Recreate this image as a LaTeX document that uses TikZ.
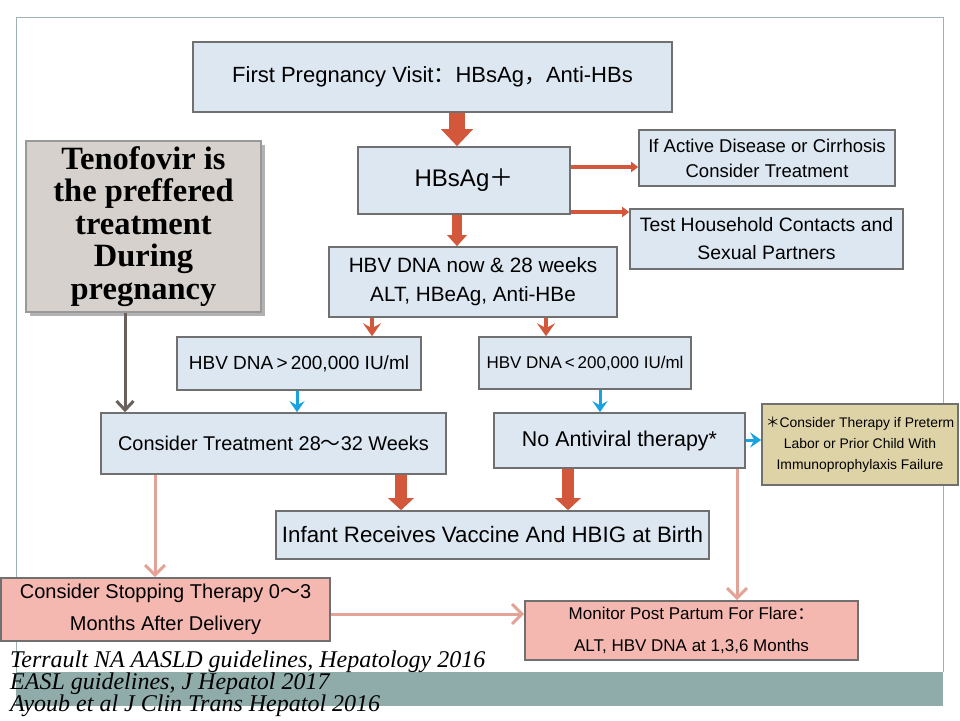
\documentclass[tikz,border=0pt]{standalone}
\usepackage{fontspec}
\setmainfont{Liberation Sans}
\newfontfamily\cjk{Noto Sans CJK SC}
\newfontfamily\serifface{Liberation Serif}
\usetikzlibrary{arrows.meta}
\newcommand{\fsz}[2]{\fontsize{#1}{#2}\selectfont}
\definecolor{boxfill}{HTML}{DDE7F1}
\definecolor{boxline}{HTML}{707070}
\definecolor{orng}{HTML}{D3573A}
\definecolor{blu}{HTML}{18A3E0}
\definecolor{pnk}{HTML}{E3A497}
\definecolor{gbrown}{HTML}{6A605C}
\definecolor{tenofill}{HTML}{D6D1CC}
\definecolor{tanfill}{HTML}{DED3A6}
\definecolor{salmon}{HTML}{F4B8B0}
\definecolor{framec}{HTML}{9DB3B3}
\definecolor{bandc}{HTML}{8FABAA}
\tikzset{
  box/.style={draw=boxline, line width=1.6pt, fill=boxfill, inner sep=2pt, align=center, text=black},
  blockarr/.style={draw=orng, line width=#1},
  thinorng/.style={draw=orng, line width=4pt, -{Stealth[width=18pt,length=13pt,inset=5pt]}},
  sideorng/.style={draw=orng, line width=4.5pt, -{Triangle[width=10pt,length=7pt]}},
  bluarr/.style={draw=blu, line width=3pt, -{Stealth[width=15pt,length=11pt,inset=4pt]}},
  pnkarr/.style={draw=pnk, line width=3pt, -{Straight Barb[width=20pt,length=10pt,line width=3pt]}},
  refstyle/.style={anchor=base west, inner sep=0pt, font=\serifface\itshape\fsz{24}{24}},
}
\begin{document}
\begin{tikzpicture}[x=1pt,y=-1pt]
\useasboundingbox (0,0) rectangle (960,720);
\fill[white] (0,0) rectangle (960,720);
% slide frame
\draw[framec, line width=1pt] (16,672) -- (16,17) -- (943,17) -- (943,672);
\fill[bandc] (16,672) rectangle (943,706);

% boxes
\node[box, minimum width=479pt, minimum height=70pt, font=\fsz{22}{24}] (first) at (432.5,77) {First Pregnancy Visit{\cjk ：}HBsAg{\cjk ，}Anti-HBs};
\node[box, minimum width=212pt, minimum height=67pt, font=\fsz{24}{28}] (hbs) at (464,180.5) {HBsAg{\cjk ＋}};
\node[box, minimum width=256pt, minimum height=56pt, font=\fsz{18.5}{25}] (active) at (767,158) {If Active Disease or Cirrhosis\\Consider Treatment};
\node[box, minimum width=273pt, minimum height=60pt, font=\fsz{19.4}{28}] (test) at (766.5,239) {Test Household Contacts and\\Sexual Partners};
\node[box, minimum width=288pt, minimum height=70pt, font=\fsz{20.7}{29}] (now) at (473,282) {HBV DNA now \& 28 weeks\\ALT, HBeAg, Anti-HBe};
\node[box, minimum width=244pt, minimum height=53pt, font=\fsz{19}{22}] (gt) at (299,363.5) {HBV DNA\,>\,200,000 IU/ml};
\node[box, minimum width=212pt, minimum height=52pt, font=\fsz{17}{20}] (lt) at (585,363) {HBV DNA\,<\,200,000 IU/ml};
\fill[gray!60] (30,145) rectangle (265,316);
\node[box, draw=gray!80, fill=tenofill, minimum width=235pt, minimum height=171pt, font=\serifface\bfseries\fsz{32.5}{32.5}] (teno) at (143.5,226.5) {Tenofovir is\\the preffered\\treatment\\During\\pregnancy};
\node[box, minimum width=345pt, minimum height=61pt, font=\fsz{19.9}{22}] (ct) at (273.5,443.5) {Consider Treatment 28{\cjk ～}32 Weeks};
\node[box, minimum width=251pt, minimum height=55pt, font=\fsz{21.4}{24}] (noav) at (619.5,440.5) {No Antiviral therapy*};
\node[box, fill=tanfill, minimum width=196pt, minimum height=81pt, font=\fsz{13.9}{21}] (star) at (860,444.5) {{\cjk ＊}Consider Therapy if Preterm\\Labor or Prior Child With\\Immunoprophylaxis Failure};
\node[box, minimum width=433pt, minimum height=48pt, font=\fsz{22.3}{26}] (infant) at (492.5,535) {Infant Receives Vaccine And HBIG at Birth};
\node[box, fill=salmon, minimum width=329pt, minimum height=63pt, font=\fsz{20}{32}] (stop) at (165.5,609.5) {Consider Stopping Therapy 0{\cjk ～}3\\Months After Delivery};
\node[box, fill=salmon, minimum width=333pt, minimum height=59pt, font=\fsz{17}{32}] (mon) at (691.5,630.5) {Monitor Post Partum For Flare{\cjk ：}\\ALT, HBV DNA at 1,3,6 Months};

% references
\node[refstyle] (r1) at (10,667) {Terrault NA AASLD guidelines, Hepatology 2016};
\node[refstyle] (r2) at (10,689) {EASL guidelines, J Hepatol 2017};
\node[refstyle] (r3) at (10,711) {Ayoub et al J Clin Trans Hepatol 2016};

% helper coordinates
\coordinate (xa) at (457,0);
\coordinate (xb) at (401,0);
\coordinate (xc) at (568,0);
\coordinate (xd) at (372,0);
\coordinate (xe) at (546,0);
\coordinate (xf) at (297,0);
\coordinate (xg) at (600,0);
\coordinate (xh) at (125,0);
\coordinate (xi) at (155,0);
\coordinate (xj) at (737,0);
\coordinate (ya) at (0,167);
\coordinate (yb) at (0,212);
\coordinate (yc) at (0,440);
\coordinate (yd) at (0,614);

% connectors
\draw[blockarr=16pt, -{Triangle[width=31pt,length=17pt]}] (first.south -| xa) -- (hbs.north -| xa);
\draw[blockarr=10pt, -{Triangle[width=19pt,length=11pt]}] (hbs.south -| xa) -- (now.north -| xa);
\draw[sideorng] (hbs.east |- ya) -- (active.west |- ya);
\draw[sideorng] (hbs.east |- yb) -- (test.west |- yb);
\draw[thinorng] (now.south -| xd) -- (gt.north -| xd);
\draw[thinorng] (now.south -| xe) -- (lt.north -| xe);
\draw[bluarr] (gt.south -| xf) -- (ct.north -| xf);
\draw[bluarr] (lt.south -| xg) -- (noav.north -| xg);
\draw[bluarr] (noav.east |- yc) -- (star.west |- yc);
\draw[draw=gbrown, line width=3pt, -{Straight Barb[width=17pt,length=9pt,line width=3pt]}] (teno.south -| xh) -- (ct.north -| xh);
\draw[blockarr=12pt, -{Triangle[width=25pt,length=12pt]}] (ct.south -| xb) -- (infant.north -| xb);
\draw[blockarr=12pt, -{Triangle[width=25pt,length=12pt]}] (noav.south -| xc) -- (infant.north -| xc);
\draw[pnkarr] (ct.south -| xi) -- (stop.north -| xi);
\draw[pnkarr] (noav.south -| xj) -- (mon.north -| xj);
\draw[pnkarr] (stop.east |- yd) -- (mon.west |- yd);
\end{tikzpicture}
\end{document}
